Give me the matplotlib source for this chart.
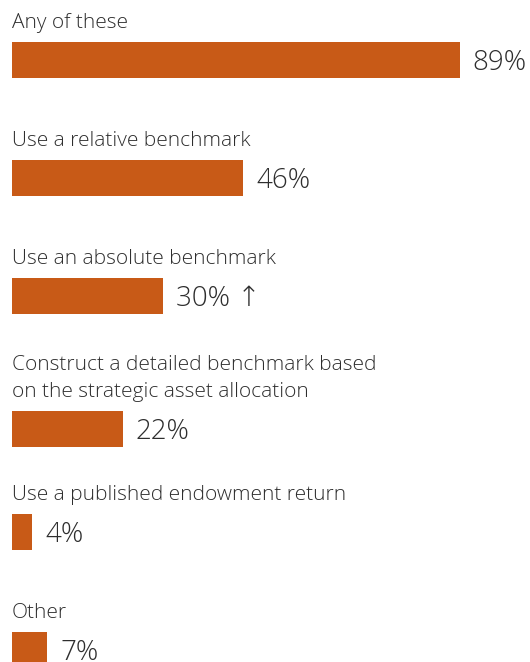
import matplotlib
matplotlib.use("Agg")
import matplotlib.pyplot as plt

categories = [
    "Any of these",
    "Use a relative benchmark",
    "Use an absolute benchmark",
    "Construct a detailed benchmark based\non the strategic asset allocation",
    "Use a published endowment return",
    "Other",
]
values = [89, 46, 30, 22, 4, 7]
value_labels = ["89%", "46%", "30% \u2191", "22%", "4%", "7%"]

# layout: pixel top of each bar row
row_tops = [42, 160, 278, 411, 514, 632]
BAR_H = 36
W, H = 530, 662

plt.rcParams['font.family'] = ['Open Sans', 'DejaVu Sans']
fig = plt.figure(figsize=(W / 100, H / 100), dpi=100)
left_px = 12
px_per_pct = 5.03
ax = fig.add_axes([left_px / W, 0, 100 * px_per_pct / W, 1])
ax.set_xlim(0, 100)
ax.set_ylim(H, 0)
ax.axis('off')

bar_color = '#C85A17'
text_color = '#2e2e2e'
centers = [t + BAR_H / 2 for t in row_tops]
ax.barh(centers, values, height=BAR_H, left=0, color=bar_color, linewidth=0)

gap_pct = 13 / px_per_pct
for cat, v, lab, top in zip(categories, values, value_labels, row_tops):
    ax.text(0, top - 14, cat, ha='left', va='baseline', fontsize=15,
            color=text_color, linespacing=1.5, fontweight='light')
    ax.text(v + gap_pct, top + BAR_H - 8, lab, ha='left', va='baseline',
            fontsize=20, color=text_color, fontweight='light')

fig.savefig('out.png', dpi=100)
